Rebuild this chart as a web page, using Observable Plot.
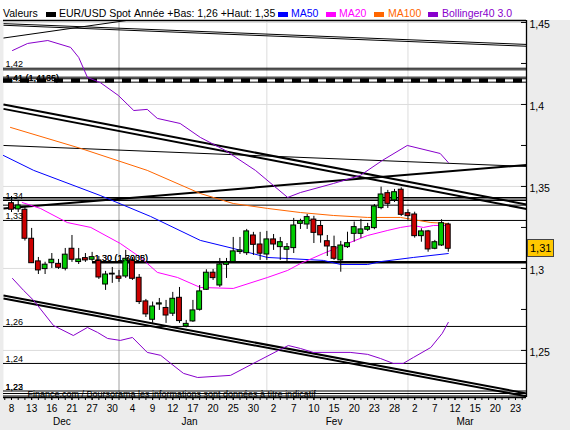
<!DOCTYPE html>
<html><head><meta charset="utf-8">
<script src="https://cdn.jsdelivr.net/npm/d3@7"></script>
<script src="https://cdn.jsdelivr.net/npm/@observablehq/plot@0.6"></script>
<style>
body{margin:0;background:#fff;}
#wrap{position:relative;width:570px;height:430px;overflow:hidden;font-family:"Liberation Sans",Arial,sans-serif;
  background:linear-gradient(#fff 0,#fff 20px,#ececec 20px,#ececec 100%);}
#head span{position:absolute;top:7px;font-size:10.5px;line-height:13px;white-space:nowrap;}
#head i{position:absolute;top:12px;width:10px;height:5px;}
#chart{position:absolute;left:0;top:0;}
#tag{position:absolute;left:527px;width:23px;height:16px;background:#ffc800;border:1px solid #444;
  font-size:11px;line-height:16px;padding-left:2px;color:#000;}
</style></head><body>
<div id="wrap">
  <div id="head">
    <span style="left:3px">Valeurs</span>
    <i style="left:46px;background:#000"></i>
    <span style="left:59px">EUR/USD Spot</span>
    <span style="left:134px">Année +Bas: 1,26 +Haut: 1,35</span>
    <i style="left:278px;background:#0000ff"></i>
    <span style="left:291px;color:#0000ff">MA50</span>
    <i style="left:326px;background:#ff00ff"></i>
    <span style="left:339px;color:#ff00ff">MA20</span>
    <i style="left:374px;background:#ff6600"></i>
    <span style="left:388px;color:#ff6600">MA100</span>
    <i style="left:428px;background:#8800cc"></i>
    <span style="left:442px;color:#8800cc">Bollinger40 3.0</span>
  </div>
  <div id="chart"></div>
  <div id="tag"></div>
</div>
<script>
// ---------------- data ----------------
// x = trading-session index (0 = 8 Dec 2011 ... 65 = 9 Mar 2012)
const dayLabels = ["8","13","16","21","27","30","4","9","12","17","20","25","30","2","7","10","15","20","23","28","2","7","12","15","20","23"];
const monthLabels = ["Dec","Jan","Fev","Mar"];
const monthFirstIdx = [0,16,38,59];
const monthLastIdx = [15,37,58,76];

const open  = [1.3398,1.3360,1.3358,1.3181,1.3043,1.2996,1.3032,1.3028,1.2998,1.3120,1.3039,1.3063,1.3053,1.3049,1.2902,1.2963,1.2951,1.2951,1.3049,1.2943,1.2799,1.2687,1.2780,1.2759,1.2724,1.2821,1.2646,1.2677,1.2748,1.2870,1.2974,1.2896,1.3022,1.3039,1.3100,1.3093,1.3201,1.3146,1.3085,1.3177,1.3130,1.3114,1.3124,1.3272,1.3268,1.3298,1.3259,1.3166,1.3130,1.3049,1.3130,1.3211,1.3211,1.3236,1.3246,1.3368,1.3459,1.3415,1.3480,1.3337,1.3329,1.3197,1.3226,1.3120,1.3140,1.3268];
const high  = [1.3439,1.3415,1.3378,1.3244,1.3067,1.3038,1.3091,1.3055,1.3122,1.3201,1.3122,1.3091,1.3098,1.3073,1.2982,1.3006,1.2988,1.3110,1.3067,1.2963,1.2811,1.2795,1.2817,1.2805,1.2854,1.2884,1.2683,1.2805,1.2896,1.2992,1.2994,1.3061,1.3061,1.3189,1.3189,1.3238,1.3220,1.3220,1.3226,1.3207,1.3189,1.3152,1.3305,1.3300,1.3329,1.3318,1.3289,1.3201,1.3197,1.3165,1.3221,1.3283,1.3299,1.3275,1.3390,1.3496,1.3476,1.3482,1.3492,1.3358,1.3343,1.3242,1.3232,1.3171,1.3297,1.3276];
const low   = [1.3341,1.3341,1.3167,1.3030,1.2963,1.2963,1.3000,1.2994,1.2985,1.3037,1.3024,1.3037,1.3043,1.2933,1.2866,1.2909,1.2915,1.2939,1.2927,1.2780,1.2701,1.2666,1.2744,1.2665,1.2707,1.2665,1.2638,1.2671,1.2740,1.2866,1.2927,1.2884,1.2939,1.3037,1.3085,1.3079,1.3079,1.3049,1.3049,1.3110,1.3049,1.3030,1.3091,1.3238,1.3238,1.3152,1.3154,1.3073,1.3049,1.2977,1.3122,1.3160,1.3183,1.3226,1.3236,1.3358,1.3366,1.3402,1.3317,1.3293,1.3185,1.3160,1.3099,1.3114,1.3134,1.3099];
const close = [1.3358,1.3384,1.3181,1.3032,1.2988,1.3023,1.3053,1.3004,1.3084,1.3053,1.3055,1.3049,1.3069,1.2945,1.2963,1.2968,1.2937,1.3059,1.2937,1.2795,1.2720,1.2768,1.2787,1.2713,1.2815,1.2679,1.2662,1.2744,1.2860,1.2974,1.2941,1.3024,1.3035,1.3104,1.3110,1.3226,1.3144,1.3090,1.3177,1.3146,1.3160,1.3130,1.3262,1.3288,1.3313,1.3217,1.3202,1.3134,1.3059,1.3140,1.3154,1.3252,1.3238,1.3252,1.3378,1.3451,1.3394,1.3465,1.3327,1.3319,1.3197,1.3226,1.3116,1.3160,1.3276,1.3120];

const ma50Idx  = [-1.2,3.3,13.2,20.7,28.1,33,38.1,46.4,49,53,55,59.8,65];
const ma50Val  = [1.3689,1.3598,1.3445,1.3317,1.3171,1.3122,1.3067,1.3049,1.3024,1.3024,1.3042,1.3067,1.3091];
const ma20Idx  = [1.6,4.3,8.3,11.8,16.2,19.2,21.7,24.7,28.1,33,38.1,41.1,43,46.4,50,53,56,57.9,59.8,61.3,62.8,65];
const ma20Val  = [1.3402,1.3366,1.3280,1.3250,1.3152,1.3067,1.2976,1.2945,1.2884,1.2878,1.2945,1.2988,1.3030,1.3091,1.3152,1.3201,1.3232,1.3250,1.3262,1.3250,1.3262,1.3262];
const ma100Idx = [-0.15,10.3,20.2,28.1,33,38.1,43,47.9,53,57.9,62.4,65];
const ma100Val = [1.3860,1.3732,1.3598,1.3457,1.3396,1.3366,1.3341,1.3323,1.3311,1.3311,1.3280,1.3274];
const bollUpIdx = [0.15,2.4,5.4,8.8,10,11.3,13.2,15.9,18.2,20.2,21.7,25.1,28.1,31.8,36.3,41.1,43,47.9,51.9,55.2,58.9,63.8,65];
const bollUpVal = [1.4329,1.4372,1.4390,1.4348,1.4287,1.4165,1.4134,1.4055,1.3963,1.3970,1.3915,1.3884,1.3799,1.3720,1.3598,1.3433,1.3463,1.3518,1.3567,1.3659,1.3750,1.3701,1.3646];
const bollLoIdx = [0.15,1.8,3.3,6.25,9.2,11.3,12.8,14.3,16.2,18,20.2,22.2,23.7,25.6,27.7,32.6,36,40,41.2,43,44.9,50.4,53,54.9,56.8,58.3,59.8,62.4,64.1,65];
const bollLoVal = [1.2939,1.2866,1.2805,1.2652,1.2591,1.2640,1.2610,1.2573,1.2561,1.2579,1.2488,1.2470,1.2421,1.2360,1.2335,1.2348,1.2421,1.2506,1.2530,1.2512,1.2488,1.2488,1.2476,1.2451,1.2421,1.2421,1.2457,1.2518,1.2604,1.2671];

// drawn trend lines (session index / price at each end)
const X0 = -1.19, X1 = 76.64;
const Y0 = 1.2213, Y1 = 1.4512;
const thickTrendFrom = [1.4000,1.3973,1.3366,1.2835,1.2817];
const thickTrendTo   = [1.3390,1.3363,1.3631,1.2238,1.2220];
const thinTrendFrom  = [1.4493,1.4483,1.3750];
const thinTrendTo    = [1.4366,1.4355,1.3622];
const shortTrend = [{i1:-1.19,p1:1.4405,i2:17.1,p2:1.4512}];
const thinLevels  = [1.4221,1.4211,1.41665,1.41567,1.4136,1.3386,1.32927,1.26463,1.24207];
const thickLevels = [1.34311,1.34159];
const bottomLevels = [1.2253,1.22378,1.22226];
const dashLevels  = [1.41463];
const pivotLevel  = [{i:12.05,p:1.30384}];
const levelText = ["1,42","1,41 (1,4165)","1,41 (1,4136)","1,34","1,33","1,26","1,24","1,23","1,22"];
const levelVal  = [1.4221,1.4136,1.4136,1.34159,1.32927,1.26463,1.24207,1.2253,1.2253];
const pivotText = ["1,30 (1,3038)","1,30 (1,3005)"];
const yMajor = [1.25,1.3,1.35,1.4,1.45];
const yMinor = [1.275,1.325,1.375,1.425];
const source = "Finance.com / Boursorama les informations sont données à titre indicatif";

// ---------------- build ----------------
const candles = open.map((o,k)=>({i:k,open:o,high:high[k],low:low[k],close:close[k]}));
const pts = (idx,val)=>idx.map((v,k)=>({i:v,p:val[k]}));
const segs = (a,b)=>a.map((v,k)=>({i1:X0,p1:v,i2:X1,p2:b[k]}));
const labelIdx = dayLabels.map((_,k)=>k*3);
const labMap = new Map(labelIdx.map((v,k)=>[v,dayLabels[k]]));
const monthMid = monthFirstIdx.map((f,k)=>(f+monthLastIdx[k])/2);
const monMap = new Map(monthMid.map((v,k)=>[v,monthLabels[k]]));
const fmt = d=>String(+d.toFixed(2)).replace(".",",");
const PURPLE="#8800cc";

const chart = Plot.plot({
  width:570, height:430,
  marginTop:20, marginBottom:33, marginLeft:3, marginRight:44,
  style:{background:"transparent",fontFamily:"'Liberation Sans', Arial, sans-serif",fontSize:"10px",overflow:"visible"},
  x:{type:"linear",domain:[X0,X1],axis:null},
  y:{type:"linear",domain:[Y0,Y1],axis:null},
  marks:[
    Plot.frame({fill:"white",stroke:"none"}),
    Plot.ruleY(yMajor,{stroke:"#dcdcdc"}),
    Plot.ruleX([monthFirstIdx[2],monthFirstIdx[3]],{stroke:"#dcdcdc"}),
    Plot.ruleX([monthFirstIdx[1]],{stroke:"#a0a0a0"}),
    // drawn lines
    Plot.link(segs(thinTrendFrom,thinTrendTo),{x1:"i1",y1:"p1",x2:"i2",y2:"p2",stroke:"black",strokeWidth:1}),
    Plot.link(shortTrend,{x1:"i1",y1:"p1",x2:"i2",y2:"p2",stroke:"black",strokeWidth:1}),
    Plot.link(segs(thickTrendFrom,thickTrendTo),{x1:"i1",y1:"p1",x2:"i2",y2:"p2",stroke:"black",strokeWidth:2}),
    Plot.ruleY(thinLevels,{stroke:"black",strokeWidth:1}),
    Plot.ruleY(thickLevels,{stroke:"black",strokeWidth:1.6}),
    Plot.ruleY(bottomLevels,{stroke:"black",strokeWidth:1.1}),
    Plot.ruleY(dashLevels,{stroke:"black",strokeWidth:4,strokeDasharray:"9,8"}),
    Plot.ruleY(pivotLevel,{y:"p",x1:"i",x2:X1,stroke:"black",strokeWidth:2.5}),
    // indicators
    Plot.line(pts(bollUpIdx,bollUpVal),{x:"i",y:"p",stroke:PURPLE,strokeWidth:1}),
    Plot.line(pts(bollLoIdx,bollLoVal),{x:"i",y:"p",stroke:PURPLE,strokeWidth:1}),
    Plot.line(pts(ma100Idx,ma100Val),{x:"i",y:"p",stroke:"#ff6600",strokeWidth:1}),
    Plot.line(pts(ma50Idx,ma50Val),{x:"i",y:"p",stroke:"#0000ff",strokeWidth:1}),
    Plot.line(pts(ma20Idx,ma20Val),{x:"i",y:"p",stroke:"#ff00ff",strokeWidth:1}),
    // candles
    Plot.ruleX(candles,{x:"i",y1:"low",y2:"high",stroke:"black",strokeWidth:1}),
    Plot.rect(candles,{x1:d=>d.i-0.36,x2:d=>d.i+0.36,y1:"open",y2:"close",
      fill:d=>d.close>=d.open?"#00cc00":"#cc0000",stroke:"black",strokeWidth:1}),
    // level labels
    Plot.text(levelText,{x:X0,y:(d,k)=>levelVal[k],text:d=>d,textAnchor:"start",lineAnchor:"bottom",dx:2,dy:-1,fontSize:9,fill:"black"}),
    Plot.text(pivotText,{x:pivotLevel[0].i,y:pivotLevel[0].p,text:d=>d,textAnchor:"start",lineAnchor:"bottom",dx:2,dy:-1,fontSize:9,fill:"black"}),
    Plot.text([source],{frameAnchor:"bottom-left",text:d=>d,textAnchor:"start",lineAnchor:"bottom",dx:24,dy:-1,fontSize:9,fill:"black"}),
    // borders
    Plot.ruleY([Y1],{stroke:"black",strokeWidth:1.3}),
    Plot.ruleY([Y0],{stroke:"black",strokeWidth:1.3}),
    Plot.ruleX([X1],{stroke:"black",strokeWidth:1.3}),
    // axes
    Plot.tickY([...yMajor,...yMinor],{y:d=>d,stroke:"black",insetLeft:518}),
    Plot.axisY({anchor:"right",ticks:yMajor,tickSize:0,tickPadding:3,tickFormat:fmt,fontSize:10.5,fill:"black",dy:2}),
    Plot.axisX({anchor:"bottom",ticks:d3.range(-1,77),tickSize:3,tickFormat:()=>"",stroke:"black"}),
    Plot.axisX({anchor:"bottom",ticks:labelIdx,tickSize:3,tickPadding:4,tickFormat:d=>labMap.get(d),fontSize:10,fill:"black",stroke:"black"}),
    Plot.axisX({anchor:"bottom",ticks:monthMid,tickSize:0,tickPadding:20,tickFormat:d=>monMap.get(d),fontSize:10,fill:"black"})
  ]
});
document.getElementById("chart").appendChild(chart);

// last value tag on the right axis, placed through the chart's y scale
const ys = chart.scale("y");
const yf = ys.apply ? (v=>ys.apply(v)) : d3.scaleLinear(ys.domain, ys.range);
const last = close[close.length-1];
const tag = document.getElementById("tag");
tag.textContent = fmt(+last.toFixed(2));
tag.style.top = (yf(last) - 9) + "px";
</script>
</body></html>
